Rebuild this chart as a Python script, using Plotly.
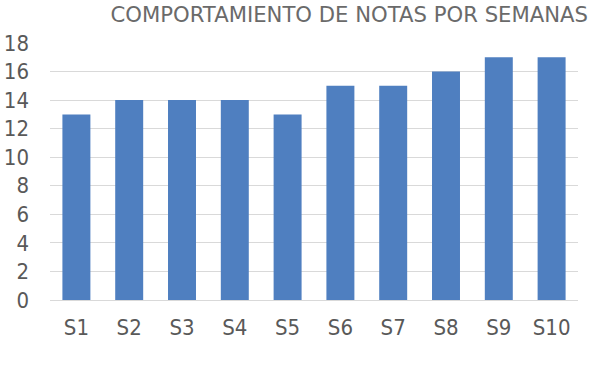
import plotly.graph_objects as go

categories = ["S1", "S2", "S3", "S4", "S5", "S6", "S7", "S8", "S9", "S10"]
notas = [13, 14, 14, 14, 13, 15, 15, 16, 17, 17]
y_ticks = [0, 2, 4, 6, 8, 10, 12, 14, 16, 18]
title_text = "COMPORTAMIENTO DE NOTAS POR SEMANAS"

fig = go.Figure(go.Bar(x=categories, y=notas, marker=dict(color="#4f7fc0", line_width=0)))

fig.update_layout(
    width=610, height=366,
    margin=dict(l=50, r=32, t=43, b=66),
    paper_bgcolor="white", plot_bgcolor="white",
    bargap=0.47,
    showlegend=False,
    title=dict(text=title_text, x=0.964, xanchor="right", y=0.96, yanchor="middle",
               font=dict(family="DejaVu Sans", size=21.2, color="#6a6a6a")),
    font=dict(family="DejaVu Sans Condensed, DejaVu Sans", color="#595959"),
)
fig.update_yaxes(range=[0, 18], tickvals=y_ticks, showgrid=True, gridcolor="#d9d9d9", gridwidth=1,
                 zeroline=False, showline=False, ticks="", tickfont=dict(size=22), ticklabelstandoff=20,
                 automargin=False)
fig.update_xaxes(showline=True, linecolor="#d9d9d9", ticks="", tickfont=dict(size=22), ticklabelstandoff=8,
                 automargin=False)

fig.write_html("out.html")
